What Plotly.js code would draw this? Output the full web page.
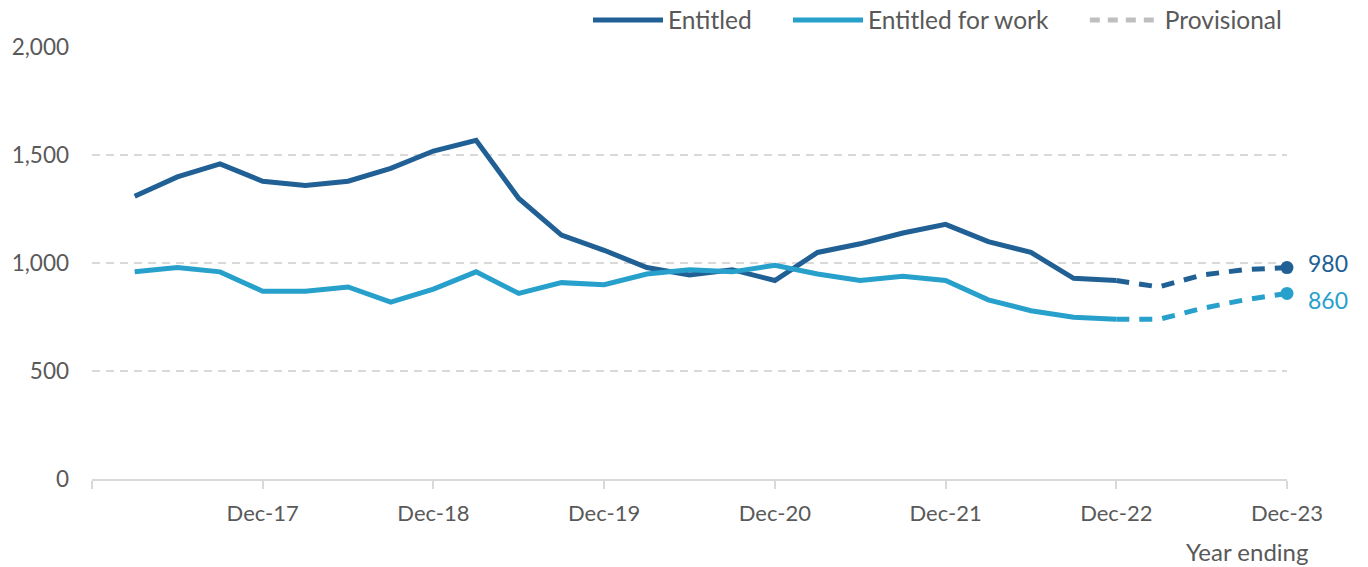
<!DOCTYPE html>
<html>
<head>
<meta charset="utf-8">
<script src="https://cdn.plot.ly/plotly-3.0.1.min.js"></script>
<style>html,body{margin:0;padding:0;background:#fff}#chart{width:1368px;height:567px}</style>
</head>
<body>
<div id="chart"></div>
<script>
// Quarters: Mar-17 ... Dec-23 (index 0..27)
const quarters = ["Mar-17","Jun-17","Sep-17","Dec-17","Mar-18","Jun-18","Sep-18","Dec-18",
  "Mar-19","Jun-19","Sep-19","Dec-19","Mar-20","Jun-20","Sep-20","Dec-20",
  "Mar-21","Jun-21","Sep-21","Dec-21","Mar-22","Jun-22","Sep-22","Dec-22",
  "Mar-23","Jun-23","Sep-23","Dec-23"];
const entitled = [1310,1400,1460,1380,1360,1380,1440,1520,
  1570,1300,1130,1060,980,945,970,920,
  1050,1090,1140,1180,1100,1050,930,920,
  890,945,970,980];
const entitledForWork = [960,980,960,870,870,890,820,880,
  960,860,910,900,950,970,960,990,
  950,920,940,920,830,780,750,740,
  740,790,830,860];
const provisionalStart = 23; // Dec-22 onward is provisional
const tickIdx = [-1,3,7,11,15,19,23,27];
const tickLabels = ["","Dec-17","Dec-18","Dec-19","Dec-20","Dec-21","Dec-22","Dec-23"];
const seriesNames = ["Entitled","Entitled for work","Provisional"];

const DARK = "#206095", LIGHT = "#27A0CC", GREY = "#BFBFBF";
const idx = quarters.map((q,i)=>i);
const FONT = "Lato, 'Open Sans', sans-serif";
const PAD = "\u00a0\u00a0\u00a0\u00a0\u00a0";

function solid(arr){ return arr.map((v,i)=> i<=provisionalStart ? v : null); }
function prov(arr){ return arr.map((v,i)=> i>=provisionalStart ? v : null); }
const last = quarters.length-1;

const traces = [
  {x: idx, y: solid(entitled), name: seriesNames[0] + PAD, mode: "lines", line:{color:DARK,width:5}},
  {x: idx, y: solid(entitledForWork), name: seriesNames[1] + PAD, mode: "lines", line:{color:LIGHT,width:5}},
  {x: idx, y: prov(entitled), mode: "lines", line:{color:DARK,width:5,dash:"13px,10px"}, showlegend:false},
  {x: idx, y: prov(entitledForWork), mode: "lines", line:{color:LIGHT,width:5,dash:"13px,10px"}, showlegend:false},
  {x: [null], y: [null], name: seriesNames[2], mode: "lines", line:{color:GREY,width:5,dash:"10px,8px"}},
  {x: [last], y: [entitled[last]], mode: "markers", marker:{color:DARK,size:13}, showlegend:false, cliponaxis:false},
  {x: [last], y: [entitledForWork[last]], mode: "markers", marker:{color:LIGHT,size:13}, showlegend:false, cliponaxis:false}
];

const layout = {
  width: 1368, height: 567,
  margin: {l:92, r:81, t:47, b:88, autoexpand:false},
  paper_bgcolor: "#fff", plot_bgcolor: "#fff",
  font: {family: FONT, size: 22, color: "#595959"},
  showlegend: true,
  legend: {orientation: "h", x: 1, xanchor: "right", y: 1.0625, yanchor: "middle",
    font: {family: FONT, size: 24.5, color: "#595959"}, itemwidth: 70, bgcolor: "rgba(0,0,0,0)"},
  xaxis: {
    range: [-1, 27], tickmode: "array", tickvals: tickIdx, ticktext: tickLabels,
    showgrid: false, zeroline: false, showline: true, linecolor: "#D9D9D9", linewidth: 2,
    ticks: "outside", ticklen: 8, tickcolor: "#D9D9D9", tickwidth: 2,
    ticklabelstandoff: 6, tickfont: {family: FONT, size: 22, color: "#595959"}
  },
  yaxis: {
    range: [0, 2002], tickvals: [0,500,1000,1500,2000], tickformat: ",d",
    showgrid: true, gridcolor: "#D9D9D9", gridwidth: 2, griddash: "8px,6px",
    zeroline: false, showline: false, ticks: "", ticklabelstandoff: 22,
    tickfont: {family: FONT, size: 22.5, color: "#595959"}
  },
  annotations: [
    {x: last, y: entitled[last], xref: "x", yref: "y", text: String(entitled[last]), showarrow: false,
     xanchor: "left", xshift: 19, yshift: 5, font: {family: FONT, size: 23, color: DARK}},
    {x: last, y: entitledForWork[last], xref: "x", yref: "y", text: String(entitledForWork[last]), showarrow: false,
     xanchor: "left", xshift: 19, yshift: -7, font: {family: FONT, size: 23, color: LIGHT}},
    {x: 1.019, y: -0.168, xref: "paper", yref: "paper", text: "Year ending", showarrow: false,
     xanchor: "right", yanchor: "middle", font: {family: FONT, size: 24, color: "#595959"}}
  ]
};

Plotly.newPlot("chart", traces, layout, {displayModeBar: false, staticPlot: true});
</script>
</body>
</html>
